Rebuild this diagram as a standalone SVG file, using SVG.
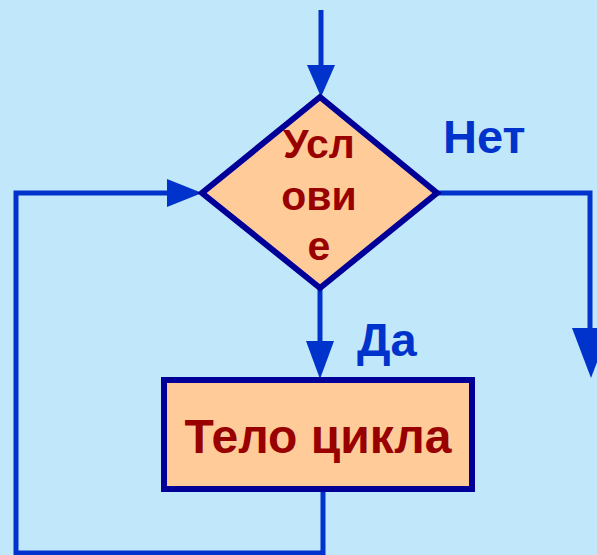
<svg xmlns="http://www.w3.org/2000/svg" width="597" height="555" viewBox="0 0 597 555">
<style>
.conn{fill:none;stroke:#0033CC;stroke-width:5}
.head{fill:#0033CC;stroke:none}
.shape{fill:#FFCC99;stroke:#000099;stroke-width:6}
.ntext{font-family:"Liberation Sans",Arial,sans-serif;font-weight:bold;fill:#990000;text-anchor:middle}
.ltext{font-family:"Liberation Sans",Arial,sans-serif;font-weight:bold;fill:#0033CC;font-size:47px}
</style>
<rect x="0" y="0" width="597" height="555" fill="#C1E7FA"/>
<g id="connectors">
<line class="conn" x1="321" y1="10" x2="321" y2="68"/>
<polygon class="head" points="307,65 335,65 321,97"/>
<line class="conn" x1="320" y1="288" x2="320" y2="344"/>
<polygon class="head" points="306,341 334,341 320,379"/>
<polyline class="conn" points="437,193 590,193 590,332"/>
<polygon class="head" points="572,328 610,328 591,378"/>
<polyline class="conn" points="323,492 323,553 16,553 16,193 170,193"/>
<polygon class="head" points="167,179 202,193 167,207"/>
</g>
<g id="condition">
<polygon class="shape" points="320,97 437,193 320,288 202,193" stroke-width="5"/>
<text class="ntext" font-size="41" x="319" y="158">Усл</text>
<text class="ntext" font-size="41" x="319" y="210">ови</text>
<text class="ntext" font-size="41" x="319" y="260">е</text>
</g>
<g id="body">
<rect class="shape" x="164" y="380" width="308" height="109"/>
<text class="ntext" font-size="48" x="318" y="453">Тело цикла</text>
</g>
<g id="label-no"><text class="ltext" x="443" y="153">Нет</text></g>
<g id="label-yes"><text class="ltext" x="357" y="356">Да</text></g>
</svg>
